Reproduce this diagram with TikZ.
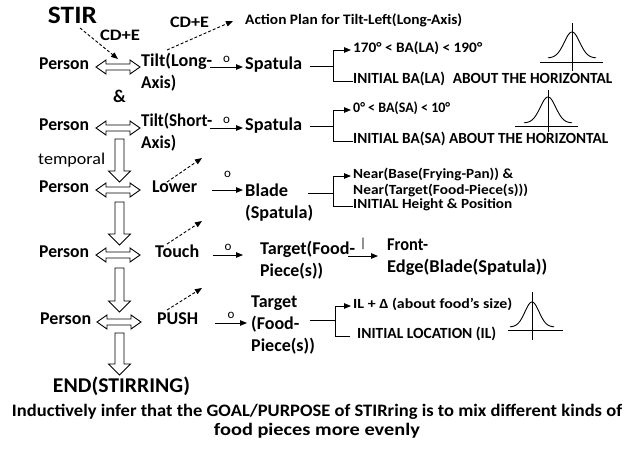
\documentclass[tikz,border=0pt]{standalone}
\usepackage{fontspec}
\usepackage{graphicx}
\setmainfont{Carlito}
\usetikzlibrary{arrows.meta,calc}
\newcommand\fw[2]{\resizebox{#1pt}{\height}{#2}}
\newcommand\HDbl[3]{\draw[hol] (#1,#3) -- ({#1+10},{#3-7}) -- ({#1+10},{#3-3}) -- ({#2-10},{#3-3}) -- ({#2-10},{#3-7}) -- (#2,#3) -- ({#2-10},{#3+7}) -- ({#2-10},{#3+3}) -- ({#1+10},{#3+3}) -- ({#1+10},{#3+7}) -- cycle;}
\newcommand\VDown[3]{\draw[hol] ({#1-4.5},#2) -- ({#1+4.5},#2) -- ({#1+4.5},{#3-11}) -- ({#1+11},{#3-11}) -- (#1,#3) -- ({#1-11},{#3-11}) -- ({#1-4.5},{#3-11}) -- cycle;}
% xc, yaxis, x0, x1, ytop, ybot, ypeak, ytail, halfw
\newcommand\Bell[9]{%
  \draw[line width=0.9pt] (#3,#2) -- (#4,#2);
  \draw[line width=0.9pt] (#1,#5) -- (#1,#6);
  \draw[line width=0.9pt] plot[domain=-1:1,samples=60,smooth] ({#1+#9*\x},{#8-(#8-#7)*exp(0-(2.2*\x)*(2.2*\x))});}
\begin{document}
\begin{tikzpicture}[x=1pt,y=-1pt,
  txt/.style={anchor=west, inner sep=0pt, font=\fontsize{18}{22}\selectfont\bfseries, text height=.72em, text depth=.22em},
  ml/.style={anchor=north west, inner sep=0pt, align=left, font=\fontsize{18}{22}\selectfont\bfseries},
  sm/.style={anchor=west, inner sep=0pt, font=\fontsize{14.5}{16}\selectfont\bfseries, text height=.72em, text depth=.22em},
  smb/.style={sm, font=\fontsize{15.5}{16}\selectfont\bfseries},
  lab/.style={inner sep=0pt, font=\fontsize{13}{13}\selectfont},
  arr/.style={line width=0.9pt, -{Triangle[length=7pt,width=5.5pt]}},
  darr/.style={arr, dash pattern=on 3pt off 2pt},
  hol/.style={draw, line width=0.9pt, fill=white},
  ln/.style={line width=0.9pt}]
\useasboundingbox (0,0) rectangle (634,450);
% top
\node[inner sep=0pt, font=\fontsize{25}{25}\selectfont\bfseries] (stir) at (72.5,15) {\fw{49}{STIR}};
\node[inner sep=0pt, font=\fontsize{16}{16}\selectfont\bfseries] (cd1) at (120,35) {\fw{40}{CD+E}};
\node[inner sep=0pt, font=\fontsize{16}{16}\selectfont\bfseries] (cd2) at (189.5,22) {\fw{39}{CD+E}};
\node[sm] (ap) at (245,22) {\fw{217}{Action Plan for Tilt-Left(Long-Axis)}};
% row 1
\node[txt] (p1) at (39,67) {\fw{50}{Person}};
\node[ml] (tl1) at (141,50.4) {\strut\fw{71}{Tilt(Long-}\\\fw{35}{Axis)}};
\node[txt] (sp1) at (245,67) {\fw{57}{Spatula}};
\node[sm] (b1a) at (353,50) {\fw{129}{170° < BA(LA) < 190°}};
\node[smb] (b1b) at (353,81) {\fw{259}{INITIAL BA(LA)\enspace ABOUT THE HORIZONTAL}};
\HDbl{96}{140}{67}
\coordinate (s0) at (80,28);
\coordinate (s1) at (118,59);
\draw[darr] (s0) -- (s1);
\coordinate (c1) at (167,50);
\draw[darr] (c1) -- ($(ap.west)+(-12,-1)$);
\coordinate (o1) at (210,67);
\draw[arr] (o1) -- node[lab, above=4pt] {o} ($(sp1.west)+(-2,0)$);
\draw[ln] (310,66) -- (333,66);
\draw[ln] (b1b.west) -- (333,81) -- (333,50);
\draw[arr] (333,50) -- ($(b1a.west)+(-2,0)$);
\Bell{572}{62}{540}{603}{23}{71}{32}{58}{24}
% &
\node[txt] (amp) at (113,100) {\&};
% row 2
\node[txt] (p2) at (39,128) {\fw{50}{Person}};
\node[ml] (tl2) at (141,110.4) {\strut\fw{71}{Tilt(Short-}\\\fw{35}{Axis)}};
\node[txt] (sp2) at (245,128) {\fw{57}{Spatula}};
\node[sm] (b2a) at (353,110) {\fw{97}{0° < BA(SA) < 10°}};
\node[smb] (b2b) at (353,141) {\fw{255}{INITIAL BA(SA) ABOUT THE HORIZONTAL}};
\HDbl{96}{140}{128}
\coordinate (o2) at (210,128);
\draw[arr] (o2) -- node[lab, above=4pt] {o} ($(sp2.west)+(-2,0)$);
\draw[ln] (310,126) -- (333,126);
\draw[ln] (b2b.west) -- (333,141) -- (333,110);
\draw[arr] (333,110) -- ($(b2a.west)+(-2,0)$);
\Bell{548}{126}{515}{578}{90}{132}{97}{123}{24}
\node[anchor=west, inner sep=0pt, font=\fontsize{16.5}{16}\selectfont] (tmp) at (38,160) {\fw{67}{temporal}};
\VDown{119.5}{139}{182}
% row 3
\node[txt] (p3) at (39,190) {\fw{50}{Person}};
\node[txt] (low) at (152,190) {\fw{45}{Lower}};
\node[ml] (bl) at (245,180.4) {\strut\fw{43}{Blade}\\\fw{68}{(Spatula)}};
\node[sm, font=\fontsize{14}{16}\selectfont\bfseries] (b3a) at (353,176) {\fw{160}{Near(Base(Frying-Pan)) \&}};
\node[sm, font=\fontsize{14}{16}\selectfont\bfseries] (b3b) at (353,192) {\fw{175}{Near(Target(Food-Piece(s)))}};
\node[sm, font=\fontsize{14}{16}\selectfont\bfseries] (b3c) at (353,206) {\fw{159}{INITIAL Height \& Position}};
\HDbl{96}{140}{190}
\coordinate (c3a) at (167,182);
\coordinate (c3b) at (202,158);
\draw[darr] (c3a) -- (c3b);
\coordinate (o3) at (212,190);
\coordinate (o3e) at (243,190);
\draw[arr] (o3) -- node[lab, above=12pt] {o} (o3e);
\draw[ln] (308,193) -- (333,193);
\draw[ln] (b3c.west) -- (333,206) -- (333,176);
\draw[arr] (333,176) -- ($(b3a.west)+(-2,0)$);
\VDown{119.5}{202}{245}
% row 4
\node[txt] (p4) at (39,255) {\fw{50}{Person}};
\node[txt] (tch) at (155,255) {\fw{44}{Touch}};
\node[ml] (tf) at (260,238.4) {\strut\fw{95}{Target(Food-}\\\fw{63}{Piece(s))}};
\node[ml] (fe) at (387,234.4) {\strut\fw{41}{Front-}\\\fw{160}{Edge(Blade(Spatula))}};
\HDbl{96}{140}{255}
\coordinate (c4a) at (167,244);
\coordinate (c4b) at (202,221);
\draw[darr] (c4a) -- (c4b);
\coordinate (o4) at (213,255);
\coordinate (o4e) at (243,255);
\draw[arr] (o4) -- node[lab, above=4pt] {o} (o4e);
\coordinate (i4) at (348,256);
\coordinate (i4e) at (378,256);
\draw[arr] (i4) -- node[lab, above=6pt] {|} (i4e);
\VDown{119.5}{268}{312}
% row 5
\node[txt] (p5) at (40,322) {\fw{51}{Person}};
\node[txt] (psh) at (157,322) {\fw{41}{PUSH}};
\node[ml] (tg5) at (251,291.4) {\strut Target\\(Food-\\Piece(s))};
\node[sm, font=\fontsize{14}{16}\selectfont\bfseries] (b5a) at (353,306) {\fw{159}{IL + Δ (about food’s size)}};
\node[smb] (b5b) at (357,336) {\fw{139}{INITIAL LOCATION (IL)}};
\HDbl{97}{141}{322}
\coordinate (c5a) at (167,310);
\coordinate (c5b) at (202,288);
\draw[darr] (c5a) -- (c5b);
\coordinate (o5) at (215,323);
\coordinate (o5e) at (247,323);
\draw[arr] (o5) -- node[lab, above=4pt] {o} (o5e);
\draw[ln] (310,320) -- (335,320);
\draw[ln] ($(b5b.west)+(-7,0)$) -- (335,336) -- (335,306);
\draw[arr] (335,306) -- ($(b5a.west)+(-2,0)$);
\Bell{532}{330}{508}{563}{292}{340}{302}{327}{22}
\VDown{119.5}{333}{375}
% end
\node[inner sep=0pt, font=\fontsize{21}{21}\selectfont\bfseries] (end) at (121.5,386) {\fw{137}{END(STIRRING)}};
\node[inner sep=0pt, align=center, font=\fontsize{17.5}{19.5}\selectfont\bfseries] (goal) at (317,421) {\fw{610}{Inductively infer that the GOAL/PURPOSE of STIRring is to mix different kinds of}\\\fw{206}{food pieces more evenly}};
\end{tikzpicture}
\end{document}
